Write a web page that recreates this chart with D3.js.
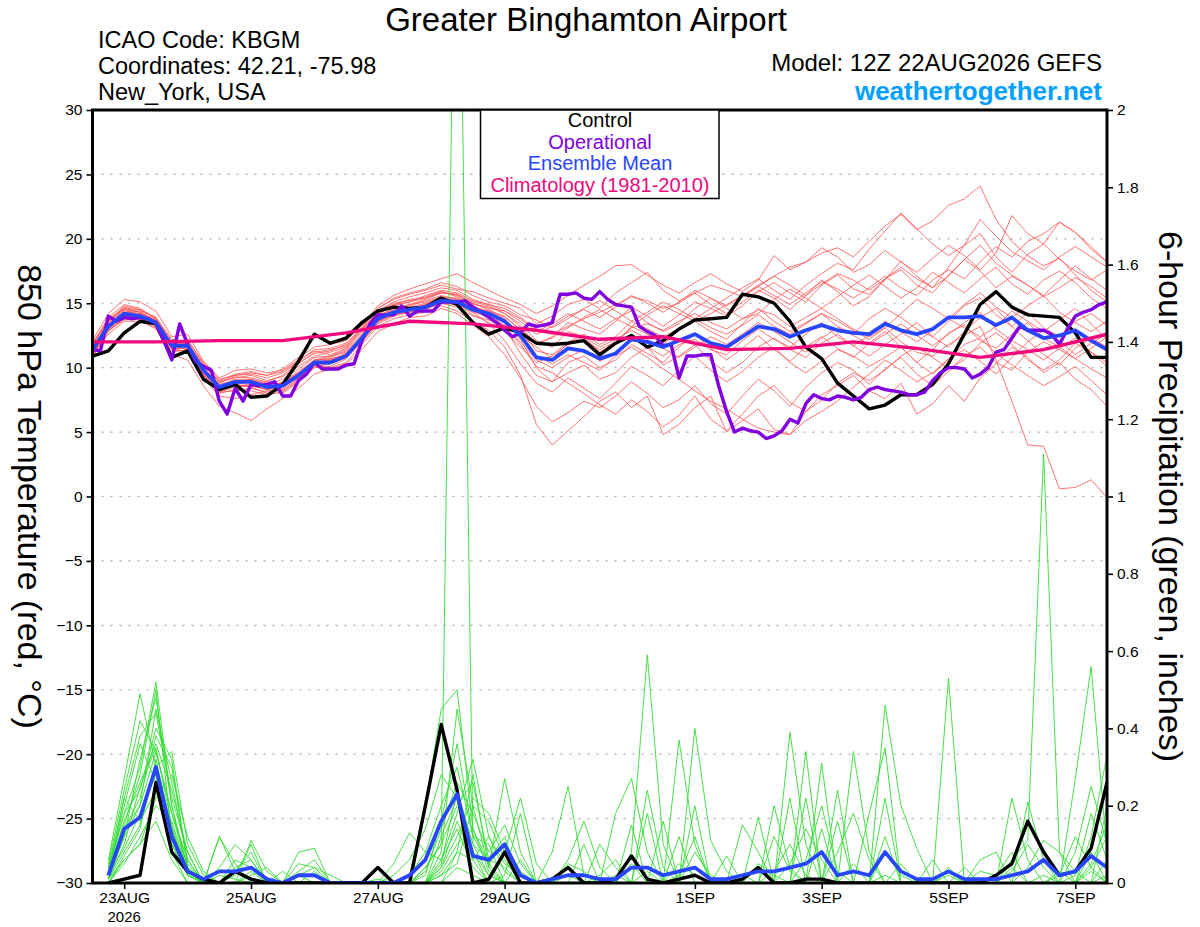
<!DOCTYPE html>
<html>
<head>
<meta charset="utf-8">
<script src="https://cdn.jsdelivr.net/npm/d3@7"></script>
<style>
  body { margin: 0; background: #fff; }
  svg { font-family: "Liberation Sans", Arial, Helvetica, sans-serif; display: block; }
</style>
</head>
<body>
<div id="chart"></div>
<script>
const width = 1200;
const height = 927;
const plot = { left: 92.5, right: 1107, top: 110, bottom: 883 };

// model run 12Z 22AUG2026, 6-hourly to 7SEP 12Z
const runStart = Date.UTC(2026, 7, 22, 12);
const runEnd = Date.UTC(2026, 8, 7, 12);

const dateTicks = [
  Date.UTC(2026, 7, 23), Date.UTC(2026, 7, 25), Date.UTC(2026, 7, 27), Date.UTC(2026, 7, 29),
  Date.UTC(2026, 8, 1), Date.UTC(2026, 8, 3), Date.UTC(2026, 8, 5), Date.UTC(2026, 8, 7)
];
const dateLabels = ["23AUG", "25AUG", "27AUG", "29AUG", "1SEP", "3SEP", "5SEP", "7SEP"];
const tempTicks = [-30, -25, -20, -15, -10, -5, 0, 5, 10, 15, 20, 25, 30];
const precipTicks = [0, 0.2, 0.4, 0.6, 0.8, 1, 1.2, 1.4, 1.6, 1.8, 2];

// 850 hPa temperature, 6-hourly (65 values)
const controlTemp = [
  10.9, 11.3, 12.7, 13.6, 13.4, 10.8, 11.3, 9.1, 8.3, 8.7,
  7.7, 7.8, 8.7, 10.5, 12.6, 11.9, 12.3, 13.5, 14.4, 14.7,
  14.6, 14.7, 15.4, 14.9, 13.5, 12.6, 13.1, 12.7, 11.9, 11.8,
  11.9, 12.1, 11.0, 11.9, 12.5, 11.6, 12.1, 13.0, 13.7, 13.8,
  13.9, 15.7, 15.5, 15.0, 13.6, 11.6, 10.7, 8.8, 7.8, 6.8,
  7.1, 7.9, 7.9, 8.7, 10.3, 12.6, 14.9, 15.9, 14.7, 14.1,
  14.0, 13.9, 12.7, 10.8, 10.8
];
const meanTemp = [
  11.4, 13.2, 14.2, 14.0, 13.5, 11.7, 11.7, 9.8, 8.5, 8.9,
  8.9, 8.5, 8.6, 9.4, 10.4, 10.4, 10.9, 12.3, 13.8, 14.3,
  14.5, 14.7, 15.2, 15.1, 14.5, 14.2, 13.6, 12.5, 10.8, 10.6,
  11.5, 11.3, 10.7, 11.1, 12.2, 12.0, 11.6, 12.1, 12.6, 11.9,
  11.6, 12.4, 13.2, 13.0, 12.4, 12.9, 13.3, 12.9, 12.7, 12.6,
  13.4, 12.9, 12.6, 13.0, 13.9, 13.9, 14.0, 13.3, 13.9, 12.9,
  12.3, 12.5, 12.9, 12.1, 11.4
];
// operational run, 3-hourly (129 values)
const operTemp = [
  11.4, 11.3, 14.0, 13.6, 13.9, 13.8, 13.9, 13.8, 13.4, 12.1,
  10.6, 13.4, 11.8, 10.5, 10.1, 9.8, 7.4, 6.4, 8.4, 7.4,
  8.7, 8.6, 8.7, 8.9, 7.8, 7.8, 9.0, 9.5, 10.4, 9.9,
  9.9, 9.9, 10.2, 10.3, 12.1, 13.4, 14.1, 14.1, 14.1, 14.8,
  14.0, 14.4, 14.4, 14.4, 15.1, 15.1, 15.1, 15.2, 14.7, 14.3,
  13.9, 13.5, 12.9, 12.4, 12.7, 13.4, 13.2, 13.3, 13.5, 15.7,
  15.7, 15.8, 15.4, 15.3, 15.9, 15.3, 14.9, 14.8, 14.7, 13.2,
  12.8, 12.5, 11.7, 11.8, 9.2, 10.9, 10.9, 11.0, 11.0, 8.6,
  6.6, 5.0, 5.3, 5.1, 5.0, 4.5, 4.7, 5.1, 6.0, 5.7,
  7.2, 7.9, 7.6, 7.5, 7.8, 7.7, 7.5, 7.7, 8.3, 8.5,
  8.3, 8.2, 8.1, 7.9, 7.9, 8.1, 9.0, 9.6, 10.0, 10.0,
  9.9, 9.2, 9.5, 10.0, 11.2, 11.4, 12.3, 13.2, 12.9, 12.9,
  12.9, 12.6, 11.8, 13.0, 14.0, 14.3, 14.5, 14.9, 15.1
];
// climatology, daily at 12Z (17 values)
const climTemp = [
  12.0, 12.0, 12.1, 12.1, 12.7, 13.6, 13.4, 12.9, 12.2,
  12.4, 11.4, 11.5, 12.0, 11.5, 10.8, 11.4, 12.6
];

const tempMembers = [
  [11.2,13.6,14.8,14.5,13.9,11.9,12.2,10.3,8.9,9.2, 9.4,9.0,9.3,10.1,10.9,11.2,11.6,12.9,14.2,14.8,
   15.1,15.6,16.0,15.8,15.2,14.9,14.6,13.9,13.0,12.6, 13.2,13.8,14.3,14.9,15.5,15.2,14.6,15.0,15.8,16.4,
   16.0,15.5,16.3,17.1,17.8,18.2,18.9,19.3,18.6,19.8, 21.0,21.9,20.7,21.4,22.6,23.1,24.1,21.5,19.8,18.7,
   17.9,18.5,17.2,16.0,15.1],
  [11.0,12.9,13.8,13.9,13.2,11.4,11.3,9.4,8.0,8.3, 8.2,7.9,8.1,9.0,10.0,10.1,10.7,12.0,13.5,14.1,
   14.4,14.6,15.3,15.0,14.1,13.5,12.8,11.6,10.4,10.9, 11.8,12.1,11.4,12.0,13.1,13.4,12.9,13.6,14.2,13.5,
   13.0,13.8,14.5,14.1,13.2,13.9,14.6,13.8,13.0,12.4, 13.1,12.0,11.2,10.9,11.8,12.5,13.2,10.6,7.4,4.0,
   3.9,0.6,0.7,1.3,-0.1],
  [11.6,13.3,14.1,13.7,13.0,11.0,10.6,8.6,7.0,6.5, 5.9,6.8,7.6,8.4,9.5,9.9,10.3,11.4,12.8,13.4,
   13.9,14.0,14.6,14.2,13.3,12.4,11.0,9.2,7.0,5.8, 6.5,7.4,6.9,7.8,8.9,8.0,6.9,7.5,8.6,7.2,
   6.4,7.8,9.1,8.2,7.0,8.5,9.6,10.4,9.8,8.7, 9.9,10.8,9.5,8.6,9.7,10.9,11.6,10.4,9.8,11.2,
   12.0,11.4,10.7,9.9,9.2],
  [12.1,14.2,15.3,15.1,14.4,12.4,12.6,10.5,9.2,9.8, 9.9,9.6,9.8,10.6,11.3,11.0,11.5,13.1,14.6,15.3,
   15.7,16.0,16.4,16.1,15.9,15.4,15.0,14.6,13.4,14.0, 14.9,15.3,14.6,15.8,16.6,17.4,16.0,15.2,15.8,14.9,
   14.2,15.1,16.0,15.4,14.5,15.6,16.8,15.9,14.8,15.5, 16.9,17.6,16.4,15.8,17.2,18.4,17.5,16.2,17.1,16.4,
   15.5,16.2,17.0,16.3,15.4],
  [10.8,12.8,13.9,14.2,13.6,11.8,11.9,9.9,8.4,8.7, 8.5,8.0,8.4,9.4,10.5,10.8,11.3,12.6,14.0,14.6,
   14.8,15.2,15.6,15.3,14.6,14.4,13.8,12.2,10.0,8.9, 9.6,10.2,9.1,9.6,10.8,11.6,10.2,10.9,11.8,10.5,
   9.6,10.4,11.6,12.3,11.4,10.8,11.9,12.6,11.7,10.9, 11.8,12.6,13.5,12.4,11.6,12.8,13.9,14.6,13.2,12.1,
   11.0,10.2,11.5,12.3,11.6],
  [11.9,13.8,14.6,14.3,13.6,11.6,11.9,10.1,9.0,9.5, 9.7,9.4,9.9,10.8,11.6,11.8,12.1,13.3,14.8,15.6,
   16.1,16.5,16.9,17.3,16.6,16.0,15.4,14.9,14.2,14.8, 15.6,16.4,17.1,17.9,18.0,17.2,16.4,15.8,16.6,17.3,
   16.5,15.9,16.8,18.7,17.6,18.2,19.3,18.6,17.4,18.0, 19.1,18.2,17.4,18.5,19.5,18.7,17.6,18.9,21.8,20.4,
   19.6,21.3,20.5,19.2,18.2],
  [11.3,13.1,14.0,14.0,13.4,11.5,11.2,9.2,7.8,7.6, 7.9,8.2,8.8,9.6,10.2,10.0,10.4,11.8,13.2,13.8,
   14.1,14.3,14.8,14.4,13.6,12.9,11.6,9.4,5.6,4.0, 5.1,6.2,7.4,8.1,6.9,7.8,4.8,5.6,6.9,7.8,
   5.0,5.9,6.8,5.2,4.8,6.6,7.9,8.6,9.4,8.2, 7.6,8.8,6.4,7.2,8.6,7.4,9.2,10.3,11.6,10.8,
   9.6,10.4,9.1,8.3,7.0],
  [11.5,13.5,14.5,14.1,13.5,12.0,11.8,9.6,8.2,8.8, 9.0,8.6,8.2,9.1,10.2,10.6,11.0,12.5,14.1,14.9,
   15.3,15.4,15.9,15.6,15.1,14.8,14.2,13.4,12.1,11.6, 12.8,12.4,11.2,11.9,13.2,12.6,11.8,12.9,13.6,12.8,
   12.2,13.4,14.6,13.6,12.8,13.5,14.2,13.2,12.6,13.8, 14.6,13.9,13.0,12.4,13.6,14.8,15.4,14.1,13.2,14.3,
   13.1,12.4,13.6,14.2,13.3],
  [11.1,12.6,13.6,13.6,13.1,11.2,11.4,9.5,8.1,8.5, 8.6,8.3,8.0,8.9,10.0,10.4,10.9,12.1,13.6,14.2,
   14.5,14.9,15.4,15.2,14.3,13.4,12.1,10.3,8.8,8.1, 9.2,8.4,7.6,8.8,10.1,9.4,8.6,9.8,10.9,9.8,
   8.9,9.7,10.8,11.6,10.4,9.6,10.5,11.4,10.9,10.1, 10.8,11.6,10.4,9.5,10.6,11.8,12.3,11.1,10.2,9.4,
   8.6,9.3,10.1,9.0,7.9],
  [11.7,13.9,14.9,14.6,13.8,11.7,11.6,9.9,8.8,9.3, 9.2,8.9,9.4,10.3,11.2,11.4,11.7,13.0,14.4,15.0,
   15.2,15.5,15.9,15.5,14.9,14.7,14.2,13.2,11.8,12.4, 13.5,13.0,12.6,13.6,14.7,14.0,13.2,14.1,15.1,14.6,
   14.0,14.8,15.9,16.6,15.8,15.1,16.4,17.2,16.1,15.7, 16.8,18.3,17.1,16.2,17.8,19.5,20.4,18.6,17.4,18.8,
   19.6,18.4,17.5,16.8,17.6],
  [10.9,13.0,13.8,13.8,13.3,11.9,11.6,9.7,8.6,8.7, 8.9,8.4,8.6,9.2,10.3,10.5,11.1,12.3,13.9,14.5,
   14.9,15.1,15.5,15.4,14.8,14.3,13.1,11.1,9.4,8.9, 10.4,10.9,10.0,10.6,11.8,11.1,10.4,11.6,12.6,11.5,
   10.6,11.5,12.5,11.4,10.5,11.6,12.4,11.5,10.8,11.9, 12.8,11.6,10.4,11.4,12.7,13.3,12.1,11.5,12.6,13.5,
   12.3,11.6,10.7,11.5,12.4],
  [11.4,13.4,14.4,14.2,13.7,11.9,11.9,10.0,8.7,9.0, 8.8,8.5,8.9,9.7,10.6,10.9,11.2,12.4,13.6,14.1,
   14.3,14.5,15.0,14.9,14.3,14.0,13.2,11.8,10.1,9.6, 8.8,8.0,7.1,6.4,7.5,6.6,5.4,6.3,7.8,6.0,
   5.1,6.4,7.8,8.6,7.3,6.6,7.5,8.8,9.6,9.0, 9.8,10.9,11.6,10.8,9.9,10.6,11.9,12.7,11.8,10.6,
   9.8,10.6,11.9,11.2,10.4],
  [11.8,13.7,14.5,14.3,13.6,11.5,11.5,9.7,8.3,8.6, 8.7,8.3,8.5,9.5,10.6,10.7,11.0,12.4,14.0,14.6,
   14.9,15.3,15.8,15.7,15.0,14.6,14.4,13.8,12.8,13.4, 14.2,13.6,13.0,13.8,14.4,13.5,12.8,13.4,14.6,15.4,
   14.6,13.8,14.2,15.3,16.1,15.4,14.6,15.5,16.4,17.2, 16.3,15.4,16.2,17.4,16.6,15.8,16.9,17.8,16.5,15.7,
   16.8,17.5,16.6,15.4,14.6],
  [11.0,13.0,14.1,14.0,13.6,11.8,11.7,9.7,8.4,8.9, 9.0,8.7,8.8,9.6,10.6,10.6,11.0,12.2,13.6,14.2,
   14.5,14.7,15.2,15.0,14.5,14.1,13.5,12.3,10.9,10.3, 11.0,10.4,9.8,10.9,11.6,10.8,9.9,9.1,8.2,7.4,
   6.8,6.0,5.3,5.0,4.8,5.9,6.6,7.4,8.5,9.5, 10.6,9.8,8.9,9.6,10.7,11.4,10.5,9.5,10.8,12.0,
   12.9,12.1,11.0,11.9,12.6],
  [11.3,13.3,14.3,14.0,13.3,11.6,11.8,9.9,8.6,9.1, 9.1,8.8,8.7,9.4,10.3,10.5,11.0,12.2,13.8,14.4,
   14.6,14.9,15.4,15.3,14.7,14.4,14.0,12.9,11.3,11.0, 12.0,12.6,11.8,12.4,13.6,13.0,12.4,13.0,13.8,13.1,
   12.6,13.3,14.1,13.2,12.6,13.4,14.2,13.6,12.9,12.2, 13.1,14.2,15.3,14.6,13.8,14.9,15.8,14.7,13.9,14.8,
   15.6,14.3,13.5,12.8,13.6],
  [11.6,13.2,14.2,14.4,13.9,12.2,12.0,10.2,8.9,9.4, 9.5,9.2,9.6,10.4,11.1,11.3,11.8,13.2,14.6,15.4,
   15.8,16.1,16.6,16.3,15.6,15.1,14.8,14.1,13.7,13.1, 13.8,14.6,15.2,14.4,13.6,14.3,15.1,14.5,13.8,14.6,
   15.4,16.2,16.9,16.0,15.3,16.4,17.3,18.1,17.6,19.2, 20.6,22.0,20.8,19.6,18.7,19.5,21.5,20.2,19.0,18.3,
   17.6,18.6,19.4,18.6,17.8],
  [11.2,12.9,13.7,13.9,13.5,11.7,11.4,9.4,8.1,8.2, 8.4,8.1,8.3,9.2,10.1,10.3,10.8,12.0,13.4,14.0,
   14.3,14.6,15.0,14.7,14.0,13.7,13.0,12.0,10.6,10.0, 10.8,11.4,10.5,11.1,12.3,11.6,10.9,11.8,12.2,11.4,
   11.0,12.1,13.0,12.2,11.6,12.6,13.5,12.4,11.7,12.5, 13.6,12.8,12.0,12.9,13.8,13.1,12.4,13.2,14.4,13.6,
   12.8,13.7,14.6,13.4,12.2],
  [11.5,13.6,14.7,14.3,13.7,11.9,11.7,9.8,8.5,8.9, 9.1,8.7,9.1,9.9,10.8,10.9,11.4,12.8,14.3,14.9,
   15.1,15.4,15.8,15.7,15.0,14.5,13.9,13.0,11.9,12.3, 13.1,13.9,14.5,13.8,13.2,14.1,14.8,14.2,13.6,14.2,
   14.9,15.6,16.3,15.6,14.9,15.8,16.7,16.1,15.4,16.2, 17.1,16.2,15.6,16.8,17.6,16.9,18.2,19.4,18.6,19.8,
   20.4,21.3,20.5,19.4,18.2],
  [11.0,13.1,14.0,13.8,13.3,11.4,11.6,9.5,8.3,8.6, 8.6,8.3,8.6,9.5,10.4,10.6,11.1,12.5,14.0,14.4,
   14.7,15.0,15.4,15.1,14.4,14.0,13.3,12.5,11.6,10.7, 11.9,12.4,11.6,12.2,12.9,12.2,11.5,10.8,11.6,12.4,
   11.8,12.6,13.5,12.8,12.0,11.2,12.3,13.1,12.5,11.8, 12.6,13.4,12.5,11.7,12.6,13.5,14.3,13.0,12.1,11.4,
   10.6,11.5,12.3,11.2,10.1],
  [11.9,13.5,14.6,14.5,13.8,12.1,12.1,10.4,9.1,9.4, 9.6,9.4,9.7,10.5,11.4,11.5,11.9,13.0,14.4,15.1,
   15.5,15.8,16.2,16.0,15.3,14.9,14.4,13.6,12.6,13.2, 14.0,14.5,13.9,14.7,15.6,15.0,14.3,15.1,16.0,15.4,
   14.8,15.6,16.4,17.1,16.4,15.6,16.5,17.3,16.8,16.0, 16.9,17.8,16.9,16.2,17.1,18.4,19.5,18.1,17.2,16.4,
   15.6,16.8,17.9,16.9,16.0]
];

// 6-hour precipitation, hundredths of an inch, steps 1..64 (first valid 22AUG 18Z)
const controlPrecip = [
  0, 1, 2, 26, 8, 3, 1, 0, 3, 1, 0, 0, 0, 0, 0, 0,
  0, 4, 0, 0, 20, 41, 24, 0, 1, 8, 0, 0, 1, 4, 0, 0,
  1, 7, 1, 0, 1, 2, 0, 0, 1, 4, 0, 0, 1, 1, 0, 0,
  0, 0, 0, 0, 0, 0, 0, 0, 2, 5, 16, 8, 2, 3, 9, 26
];
const meanPrecip = [
  2, 14, 17, 30, 12, 3, 1, 3, 3, 4, 1, 0, 2, 2, 0, 0,
  0, 0, 0, 2, 6, 16, 23, 7, 6, 10, 2, 0, 1, 2, 2, 1,
  1, 4, 4, 2, 3, 4, 1, 1, 2, 3, 3, 4, 5, 8, 2, 3,
  2, 8, 3, 1, 1, 3, 1, 1, 1, 2, 3, 6, 2, 3, 7, 4
];
const precipMembers = [
  [3,18,30,52,20,4,0,2, 1,0,0,0,2,0,0,0, 0,0,0,2,8,20,30,12, 5,10,3,0,0,2,0,0, 0,5,0,0,2,12,0,0, 0,0,3,10,2,0,0,5, 0,8,2,0,0,0,0,0, 0,3,10,4,0,2,18,6],
  [1,10,25,35,15,2,0,0, 0,3,0,0,0,0,0,0, 0,0,0,0,4,10,300,10, 6,4,0,0,0,5,3,0, 0,0,3,0,0,0,0,0, 2,0,0,5,14,6,0,0, 0,0,5,0,0,2,0,0, 0,0,4,11,8,3,0,2],
  [6,27,49,30,10,3,0,0, 4,6,0,0,0,3,0,0, 0,0,0,0,0,6,18,32, 12,5,2,0,0,0,0,0, 2,0,0,0,0,8,2,0, 0,0,12,3,0,0,0,0, 0,2,0,0,0,0,0,3, 2,8,0,0,0,0,5,15],
  [2,12,20,45,26,6,0,0, 0,0,0,0,0,0,0,0, 0,0,2,6,14,28,22,8, 2,0,0,0,0,6,16,4, 0,8,59,10,0,0,0,0, 0,0,0,0,6,20,3,0, 0,0,0,0,0,3,0,0, 0,0,0,0,2,12,4,0],
  [1,8,15,30,34,10,2,0, 0,0,0,0,0,0,0,0, 0,0,0,0,3,14,26,18, 8,15,5,0,0,0,0,0, 0,0,0,0,5,2,0,0, 0,0,0,0,0,0,8,18, 6,0,0,0,0,4,0,0, 0,6,11,111,8,0,3,0],
  [4,22,38,44,22,8,0,12, 5,0,0,0,0,0,0,0, 0,0,0,0,0,8,45,20, 4,27,8,0,0,0,0,0, 0,0,0,0,0,0,0,0, 0,5,2,0,0,0,0,0, 0,0,0,0,0,53,0,0, 0,0,0,0,0,0,0,6],
  [0,6,10,22,28,12,3,0, 0,0,0,0,8,9,0,0, 0,0,0,0,0,4,12,22, 18,8,22,5,0,0,0,0, 18,27,8,0,0,0,0,0, 0,0,0,39,10,0,0,0, 0,0,0,0,0,0,0,0, 0,0,0,0,0,0,12,33],
  [2,15,28,50,12,4,0,0, 2,10,0,0,0,0,0,0, 0,0,0,2,20,45,50,14, 3,0,0,0,8,25,2,0, 0,0,0,0,37,10,0,0, 0,0,0,0,0,0,0,0, 0,0,0,0,0,0,0,0, 0,0,0,2,0,0,0,0],
  [3,20,36,26,14,2,0,0, 0,2,4,0,0,0,0,0, 0,0,0,0,0,2,8,6, 12,3,0,0,0,0,0,0, 0,0,0,0,0,40,11,3, 0,0,0,0,0,0,0,0, 0,46,20,9,0,0,0,0, 0,0,0,0,0,8,25,10],
  [1,14,22,38,30,5,0,0, 0,0,0,0,0,0,0,0, 0,0,0,0,4,10,20,26, 6,12,0,0,0,0,0,0, 0,0,0,16,0,0,0,0, 15,8,0,0,34,0,0,0, 0,0,0,0,0,0,0,0, 0,22,6,0,0,0,0,0],
  [5,24,42,34,18,6,0,4, 10,6,0,0,0,0,0,0, 0,0,0,0,0,3,10,14, 5,0,0,0,0,0,0,2, 6,0,0,0,0,0,0,7, 0,0,20,4,0,0,24,0, 0,0,0,0,0,0,0,0, 0,0,0,0,0,27,56,8],
  [2,9,18,28,8,0,0,0, 0,0,0,3,0,0,0,0, 0,0,5,13,8,6,14,4, 0,2,18,0,0,0,10,0, 0,15,0,0,0,0,0,0, 0,17,0,0,0,31,0,0, 18,35,0,0,6,0,0,0, 0,0,0,0,0,0,0,0],
  [0,5,12,20,16,3,0,0, 0,0,0,0,2,4,2,0, 0,0,0,0,0,5,24,10, 2,0,0,0,0,0,0,10, 4,0,0,0,0,0,0,0, 0,0,0,22,0,0,0,34, 8,0,0,0,0,0,0,0, 0,0,21,6,0,0,0,0],
  [1,12,32,48,20,2,0,0, 0,0,0,0,0,0,0,0, 0,1,0,0,2,16,36,12, 10,0,0,0,0,0,0,0, 0,0,18,0,0,20,0,0, 0,0,0,0,0,0,0,0, 0,0,0,0,0,0,0,6, 8,0,0,0,0,0,4,12],
  [3,16,26,36,24,8,0,0, 0,0,0,0,0,0,0,0, 0,0,0,0,0,2,5,20, 16,6,0,0,0,0,0,0, 0,0,0,0,0,0,0,0, 0,0,0,0,0,0,0,0, 0,0,0,0,0,0,4,0, 0,0,0,0,0,0,0,20],
  [0,7,14,32,14,2,0,0, 6,4,0,0,0,0,0,0, 0,0,0,0,0,0,8,28, 4,0,0,0,0,0,0,0, 0,0,0,0,0,0,0,0, 0,0,0,0,22,0,0,0, 0,22,0,0,0,0,0,0, 0,0,0,0,0,0,8,0],
  [4,18,24,40,32,4,0,0, 0,0,0,0,0,0,0,0, 0,0,0,0,0,4,16,6, 0,0,0,0,0,0,0,0, 0,0,24,4,0,0,0,0, 0,0,0,0,0,14,0,0, 0,0,0,0,0,0,0,0, 0,0,0,0,3,0,0,0],
  [2,22,16,24,10,2,0,0, 0,0,0,0,0,0,0,0, 0,0,0,0,0,12,22,8, 0,0,6,0,0,0,0,0, 0,0,0,0,12,0,0,0, 0,0,0,0,0,0,16,0, 0,12,0,0,0,0,0,0, 0,0,0,0,0,0,0,0],
  [1,6,10,16,6,0,0,12, 3,8,0,0,5,4,0,0, 0,0,0,0,0,0,4,2, 0,0,0,0,0,0,0,0, 0,0,0,0,0,0,0,0, 0,0,0,0,0,0,0,0, 0,0,0,0,0,0,0,0, 0,4,0,0,0,0,0,0],
  [3,14,20,34,18,4,0,0, 0,11,3,0,3,6,0,0, 0,0,0,0,0,0,0,0, 0,0,0,0,0,0,0,0, 0,0,0,0,0,0,0,0, 0,0,0,0,0,0,0,0, 0,0,0,0,0,0,0,0, 0,0,0,0,0,0,0,0]
];

const HOUR = 3600e3;
const at6h = i => new Date(runStart + i * 6 * HOUR);

const x = d3.scaleUtc().domain([new Date(runStart), new Date(runEnd)]).range([plot.left, plot.right]);
const yT = d3.scaleLinear().domain([-30, 30]).range([plot.bottom, plot.top]);
const yP = d3.scaleLinear().domain([0, 2]).range([plot.bottom, plot.top]);

const tempLine = step => d3.line().x((d, i) => x(new Date(runStart + i * step * HOUR))).y(d => yT(d));
const precipLine = d3.line().x((d, i) => x(at6h(i + 1))).y(d => yP(d / 100));

const svg = d3.select("#chart").append("svg").attr("width", width).attr("height", height);

svg.append("clipPath").attr("id", "plot-clip")
  .append("rect")
  .attr("x", plot.left).attr("y", plot.top)
  .attr("width", plot.right - plot.left).attr("height", plot.bottom - plot.top);

// dotted grid at the temperature ticks
svg.append("g").selectAll("line")
  .data(tempTicks.filter(t => t > -30 && t < 30))
  .join("line")
  .attr("x1", plot.left).attr("x2", plot.right)
  .attr("y1", d => yT(d)).attr("y2", d => yT(d))
  .attr("stroke", "#a8a8a8").attr("stroke-width", 1.2).attr("stroke-dasharray", "2,7");

const lines = svg.append("g").attr("clip-path", "url(#plot-clip)").attr("fill", "none");

lines.selectAll(".tmem").data(tempMembers).join("path")
  .attr("class", "tmem")
  .attr("d", tempLine(6))
  .attr("stroke", "#ff5a5a").attr("stroke-width", 0.85);

lines.selectAll(".pmem").data(precipMembers).join("path")
  .attr("class", "pmem")
  .attr("d", precipLine)
  .attr("stroke", "#33dd33").attr("stroke-width", 0.9);

lines.append("path").attr("d", precipLine(controlPrecip))
  .attr("stroke", "#000").attr("stroke-width", 3.4).attr("stroke-linejoin", "round");
lines.append("path").attr("d", precipLine(meanPrecip))
  .attr("stroke", "#2846ff").attr("stroke-width", 3.8).attr("stroke-linejoin", "round");

lines.append("path").attr("d", tempLine(6)(controlTemp))
  .attr("stroke", "#000").attr("stroke-width", 3.4).attr("stroke-linejoin", "round");
lines.append("path").attr("d", tempLine(3)(operTemp))
  .attr("stroke", "#8000e0").attr("stroke-width", 3.4).attr("stroke-linejoin", "round");
lines.append("path").attr("d", tempLine(6)(meanTemp))
  .attr("stroke", "#2846ff").attr("stroke-width", 3.8).attr("stroke-linejoin", "round");
lines.append("path").attr("d", tempLine(24)(climTemp))
  .attr("stroke", "#f0087c").attr("stroke-width", 3.4).attr("stroke-linejoin", "round");

// axes
const leftAxis = svg.append("g")
  .attr("transform", `translate(${plot.left},0)`)
  .call(d3.axisLeft(yT).tickValues(tempTicks).tickSize(6).tickPadding(4).tickFormat(d3.format("d")));
const rightAxis = svg.append("g")
  .attr("transform", `translate(${plot.right},0)`)
  .call(d3.axisRight(yP).tickValues(precipTicks).tickSize(6).tickPadding(4).tickFormat(d3.format("~g")));
const bottomAxis = svg.append("g")
  .attr("transform", `translate(0,${plot.bottom})`)
  .call(d3.axisBottom(x).tickValues(dateTicks.map(d => new Date(d)))
    .tickSize(6).tickPadding(3).tickFormat((d, i) => dateLabels[i]));

[leftAxis, rightAxis, bottomAxis].forEach(g => {
  g.select(".domain").remove();
  g.selectAll(".tick line").attr("stroke", "#000").attr("stroke-width", 1.6);
  g.selectAll(".tick text").attr("fill", "#000").style("font-size", "15.5px")
    .style("font-family", "'Liberation Sans', Arial, sans-serif");
});

svg.append("text")
  .attr("x", x(new Date(dateTicks[0]))).attr("y", 922)
  .attr("text-anchor", "middle").style("font-size", "15px")
  .text("2026");

// frame
svg.append("rect")
  .attr("x", plot.left).attr("y", plot.top)
  .attr("width", plot.right - plot.left).attr("height", plot.bottom - plot.top)
  .attr("fill", "none").attr("stroke", "#000").attr("stroke-width", 3);

// legend box
const legend = svg.append("g");
legend.append("rect")
  .attr("x", 480.5).attr("y", plot.top).attr("width", 238.5).attr("height", 88.5)
  .attr("fill", "#fff").attr("stroke", "#000").attr("stroke-width", 1.5);
const legendItems = [
  { label: "Control", color: "#000" },
  { label: "Operational", color: "#8000e0" },
  { label: "Ensemble Mean", color: "#2846ff" },
  { label: "Climatology (1981-2010)", color: "#f0087c" }
];
legend.selectAll("text").data(legendItems).join("text")
  .attr("x", 600).attr("y", (d, i) => 127 + i * 21.5)
  .attr("text-anchor", "middle").style("font-size", "20px")
  .attr("fill", d => d.color)
  .text(d => d.label);

// titles
svg.append("text").attr("x", 586).attr("y", 31).attr("text-anchor", "middle")
  .style("font-size", "33px").text("Greater Binghamton Airport");

const info = ["ICAO Code: KBGM", "Coordinates: 42.21, -75.98", "New_York, USA"];
svg.append("g").selectAll("text").data(info).join("text")
  .attr("x", 98).attr("y", (d, i) => 48 + i * 26)
  .style("font-size", "23.5px").text(d => d);

svg.append("text").attr("x", 1102).attr("y", 70.5).attr("text-anchor", "end")
  .style("font-size", "24px").text("Model: 12Z 22AUG2026 GEFS");
svg.append("text").attr("x", 1102).attr("y", 99.5).attr("text-anchor", "end")
  .style("font-size", "26px").style("font-weight", "bold").attr("fill", "#00a0ff")
  .text("weathertogether.net");

// axis titles
svg.append("text")
  .attr("transform", `translate(30,${(plot.top + plot.bottom) / 2}) rotate(90)`)
  .attr("text-anchor", "middle").attr("dominant-baseline", "central")
  .style("font-size", "34px").text("850 hPa Temperature (red, °C)");
svg.append("text")
  .attr("transform", `translate(1171,${(plot.top + plot.bottom) / 2}) rotate(90)`)
  .attr("text-anchor", "middle").attr("dominant-baseline", "central")
  .style("font-size", "34px").text("6-hour Precipitation (green, inches)");
</script>
</body>
</html>
